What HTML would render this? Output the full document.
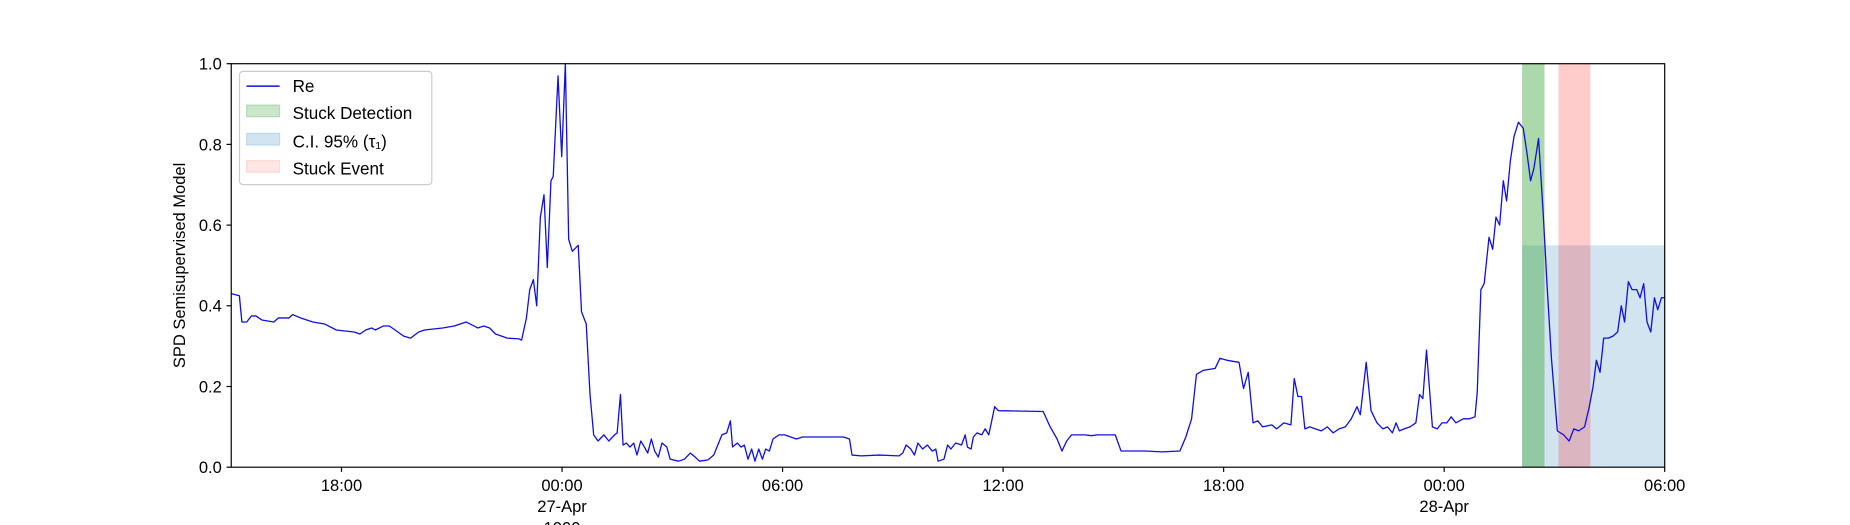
<!DOCTYPE html>
<html><head><meta charset="utf-8"><style>
body{margin:0;background:#fff;overflow:hidden;}
svg{display:block;font-family:"Liberation Sans",sans-serif;}
</style></head><body>
<svg id="chart" width="1850" height="525">
<g transform="scale(1.1798)"><g id="bands"></g><g id="lineg"></g><g id="axes"></g></g>
</svg>
<script>
// hours since 26-Apr 15:00
const times=[0,.22,.29,.42,.55,.67,.83,1.16,1.28,1.57,1.67,1.89,2.22,2.54,2.86,3.34,3.50,3.66,3.82,3.92,4.14,4.30,4.46,4.69,4.88,5.10,5.26,5.75,6.07,6.39,6.71,6.87,7.03,7.19,7.51,7.83,7.90,8.03,8.12,8.22,8.31,8.41,8.51,8.60,8.70,8.76,8.89,8.99,9.09,9.18,9.28,9.44,9.53,9.66,9.76,9.86,9.98,10.14,10.27,10.43,10.50,10.59,10.66,10.75,10.85,10.95,11.04,11.14,11.24,11.33,11.43,11.52,11.62,11.72,11.85,11.94,12.17,12.33,12.49,12.62,12.74,12.97,13.13,13.26,13.35,13.48,13.58,13.64,13.77,13.87,13.96,14.06,14.16,14.25,14.35,14.45,14.54,14.64,14.74,14.90,15.06,15.22,15.38,15.54,16.18,16.66,16.82,16.89,17.14,17.62,18.17,18.27,18.36,18.49,18.59,18.68,18.81,18.94,19.07,19.17,19.23,19.39,19.49,19.58,19.71,19.87,19.97,20.03,20.13,20.19,20.29,20.42,20.51,20.61,20.77,20.87,22.09,22.28,22.47,22.60,22.73,22.86,23.24,23.40,23.56,24.05,24.21,24.85,25.33,25.81,25.97,26.13,26.26,26.45,26.77,26.90,27.09,27.42,27.54,27.67,27.80,27.93,28.06,28.31,28.44,28.64,28.83,28.92,29.02,29.12,29.21,29.34,29.50,29.66,29.82,29.98,30.14,30.31,30.47,30.63,30.72,30.88,31.01,31.17,31.33,31.46,31.59,31.69,31.78,31.91,32.07,32.23,32.33,32.42,32.52,32.68,32.81,32.94,33.07,33.19,33.32,33.42,33.52,33.68,33.84,33.90,34.00,34.09,34.22,34.32,34.41,34.51,34.61,34.70,34.80,34.90,35.02,35.15,35.25,35.35,35.44,35.57,35.70,35.80,35.92,36.08,36.25,36.40,36.53,36.66,36.82,36.95,37.05,37.14,37.24,37.34,37.47,37.59,37.72,37.82,37.91,38.01,38.11,38.24,38.33,38.43,38.52,38.62,38.72,38.81,38.91,39.0];
const values=[.43,.425,.36,.36,.375,.375,.365,.36,.37,.37,.378,.37,.36,.355,.34,.335,.33,.34,.345,.34,.35,.35,.34,.325,.32,.335,.34,.345,.35,.36,.345,.35,.345,.33,.32,.318,.315,.37,.44,.465,.40,.62,.675,.495,.71,.72,.97,.77,1.0,.565,.535,.55,.385,.355,.18,.08,.065,.08,.065,.08,.085,.18,.055,.06,.05,.06,.03,.065,.05,.035,.07,.04,.025,.06,.05,.02,.015,.02,.035,.025,.015,.018,.03,.06,.08,.085,.115,.05,.06,.05,.055,.02,.045,.015,.045,.02,.045,.04,.07,.08,.08,.075,.07,.075,.075,.075,.07,.03,.028,.03,.028,.035,.055,.045,.03,.06,.045,.055,.04,.045,.015,.02,.055,.045,.06,.055,.08,.05,.045,.075,.085,.08,.095,.08,.15,.14,.138,.10,.07,.04,.065,.08,.08,.078,.08,.08,.04,.04,.038,.04,.075,.12,.23,.24,.245,.27,.265,.26,.195,.235,.11,.115,.10,.105,.095,.11,.105,.22,.175,.175,.095,.10,.095,.09,.10,.085,.095,.10,.12,.15,.13,.26,.14,.11,.095,.10,.085,.11,.09,.095,.10,.11,.18,.17,.29,.10,.095,.11,.11,.125,.11,.115,.12,.12,.125,.185,.44,.455,.57,.54,.62,.60,.71,.66,.76,.82,.855,.84,.78,.71,.74,.815,.62,.45,.27,.09,.08,.065,.095,.09,.10,.15,.20,.265,.235,.32,.32,.325,.335,.40,.36,.46,.44,.44,.42,.455,.36,.335,.42,.39,.42,.42];
const detection=[35.12,35.73];
const stuckEvent=[36.11,36.98];
const ciRange=[35.12,39.0];
const ciUpper=0.55;
const xTickHours=[3,9,15,21,27,33,39];
const xTickLabels=["18:00","00:00","06:00","12:00","18:00","00:00","06:00"];
const yTicks=[0,0.2,0.4,0.6,0.8,1.0];

const L=196,R=1411,T=54,B=396,NS="http://www.w3.org/2000/svg";
const xs=h=>L+(h/39)*(R-L);
const ys=v=>B-v*(B-T);
function mk(tag,attrs,parent){const e=document.createElementNS(NS,tag);for(const k in attrs)e.setAttribute(k,attrs[k]);parent.appendChild(e);return e;}
const bands=document.getElementById('bands'),lineg=document.getElementById('lineg'),axes=document.getElementById('axes');

let r=mk('rect',{x:xs(ciRange[0]),y:ys(ciUpper),width:xs(ciRange[1])-xs(ciRange[0]),height:ys(0)-ys(ciUpper),fill:'#1f77b4','fill-opacity':0.2},bands);


r=mk('rect',{x:xs(detection[0]),y:ys(1),width:xs(detection[1])-xs(detection[0]),height:ys(0)-ys(1),fill:'#2ca02c','fill-opacity':0.4},bands);


r=mk('rect',{x:xs(stuckEvent[0]),y:ys(1),width:xs(stuckEvent[1])-xs(stuckEvent[0]),height:ys(0)-ys(1),fill:'#ff0000','fill-opacity':0.2},bands);



const pts=times.map((t,i)=>xs(t).toFixed(1)+','+ys(values[i]).toFixed(1)).join(' ');
const pl=mk('polyline',{points:pts,fill:'none',stroke:'#1010dd','stroke-width':1.1,'stroke-linejoin':'round'},lineg);



const frame=mk('rect',{x:L,y:T,width:R-L,height:B-T,fill:'none',stroke:'#000','stroke-width':1},axes);



yTicks.forEach(v=>{
 mk('line',{x1:L-4,x2:L,y1:ys(v),y2:ys(v),stroke:'#000'},axes);
 const t=mk('text',{x:L-8,y:ys(v)+5,'text-anchor':'end','font-size':14},axes);
 t.textContent=v.toFixed(1);
 
 
});
xTickHours.forEach((h,i)=>{
 mk('line',{x1:xs(h),x2:xs(h),y1:B,y2:B+4,stroke:'#000'},axes);
 const t=mk('text',{x:xs(h),y:B+20,'text-anchor':'middle','font-size':14},axes);
 t.textContent=xTickLabels[i];
 
 
});
[[9,"27-Apr"],[33,"28-Apr"]].forEach(d=>{
 const t=mk('text',{x:xs(d[0]),y:B+38,'text-anchor':'middle','font-size':14},axes);
 t.textContent=d[1];
 
 
});
const yr=mk('text',{x:xs(9),y:B+56,'text-anchor':'middle','font-size':14},axes);
yr.textContent="1900";


const yl=mk('text',{x:157,y:(T+B)/2,'text-anchor':'middle','font-size':14,transform:'rotate(-90 157 '+((T+B)/2)+')'},axes);
yl.textContent="SPD Semisupervised Model";



// legend
const lg=mk('g',{},axes);


mk('rect',{x:203,y:60.5,width:163,height:96,rx:3,fill:'#fff','fill-opacity':0.8,stroke:'#ccc'},lg);
mk('line',{x1:209,x2:237,y1:73,y2:73,stroke:'#1010dd','stroke-width':1.2},lg);
mk('rect',{x:209,y:89,width:28,height:10,fill:'#2ca02c','fill-opacity':0.25,stroke:'#2ca02c','stroke-opacity':0.25},lg);
mk('rect',{x:209,y:113,width:28,height:10,fill:'#1f77b4','fill-opacity':0.2,stroke:'#1f77b4','stroke-opacity':0.2},lg);
mk('rect',{x:209,y:136,width:28,height:10,fill:'#ff0000','fill-opacity':0.1,stroke:'#ff0000','stroke-opacity':0.1},lg);
[["Re",78,'legend-entry-re'],["Stuck Detection",101,'legend-entry-detection'],["C.I. 95% (\u03C4\u2081)",125,'legend-entry-ci'],["Stuck Event",148,'legend-entry-event']].forEach(e=>{
 const t=mk('text',{x:248,y:e[1],'font-size':14.5},lg);
 t.textContent=e[0];
 
 
});
</script>
</body></html>
